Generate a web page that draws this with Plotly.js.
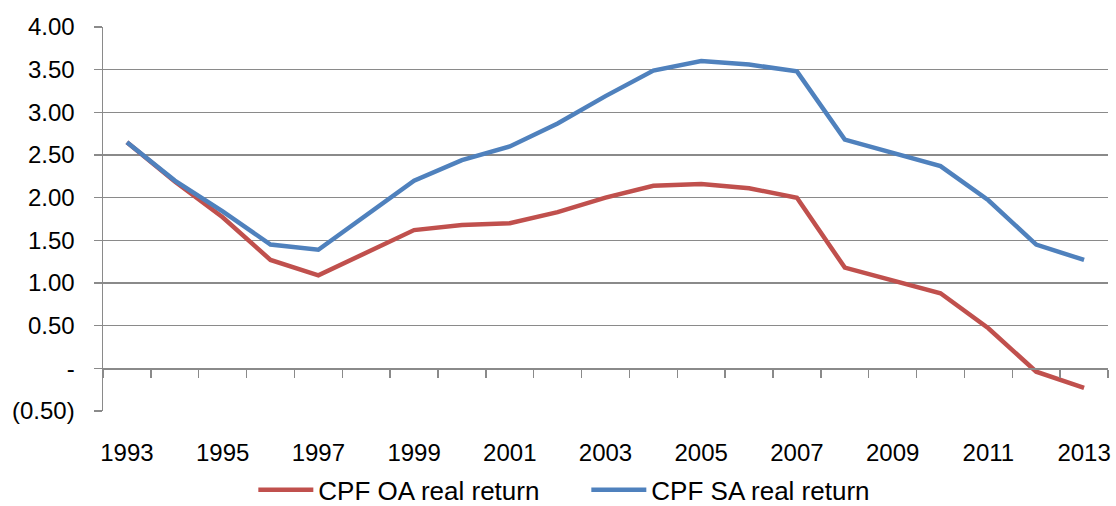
<!DOCTYPE html>
<html>
<head>
<meta charset="utf-8">
<script src="https://cdn.plot.ly/plotly-3.0.1.min.js"></script>
<style>html,body{margin:0;padding:0;background:#fff;}#chart{width:1116px;height:506px;}</style>
</head>
<body>
<div id="chart"></div>
<script>
var years = [1993,1994,1995,1996,1997,1998,1999,2000,2001,2002,2003,2004,2005,2006,2007,2008,2009,2010,2011,2012,2013];
var oaReturn = [2.65,2.19,1.77,1.27,1.09,1.36,1.62,1.68,1.70,1.83,2.00,2.14,2.16,2.11,2.00,1.18,1.03,0.88,0.47,-0.04,-0.23];
var saReturn = [2.65,2.20,1.84,1.45,1.39,1.80,2.20,2.44,2.60,2.87,3.19,3.49,3.60,3.56,3.48,2.68,2.52,2.37,1.97,1.45,1.27];
var seriesNames = ["CPF OA real return","CPF SA real return"];
var yTickVals = [-0.5,0,0.5,1,1.5,2,2.5,3,3.5,4];
var yTickText = ["(0.50)","-","0.50","1.00","1.50","2.00","2.50","3.00","3.50","4.00"];
var xLabelYears = years.filter(function(y,i){return i%2===0;});
var boundaries = years.map(function(y){return y-0.5;}).concat([years[years.length-1]+0.5]);

var font = {family:"Liberation Sans, Arial, sans-serif", size:24, color:"#000"};
var legendFont = {family:"Liberation Sans, Arial, sans-serif", size:26, color:"#000"};
var grid = "#8a8a8a";

var traces = [
  {x:years, y:oaReturn, name:seriesNames[0], type:"scatter", mode:"lines",
   line:{color:"#C0504D", width:4.5}},
  {x:years, y:saReturn, name:seriesNames[1], type:"scatter", mode:"lines",
   line:{color:"#4F81BD", width:4.5}},
  {x:[], y:[], xaxis:"x2", yaxis:"y", showlegend:false, type:"scatter", mode:"lines", hoverinfo:"skip"}
];

var layout = {
  width:1116, height:506,
  margin:{l:103, r:8, t:27, b:95, autoexpand:false},
  paper_bgcolor:"#fff", plot_bgcolor:"#fff",
  font:font,
  showlegend:true,
  legend:{orientation:"h", x:0.227, xanchor:"left", xref:"container", yref:"container",
          y:0.032, yanchor:"middle", font:legendFont, itemwidth:55, traceorder:"normal",
          entrywidth:263, entrywidthmode:"pixels"},
  xaxis:{range:[years[0]-0.5, years[years.length-1]+0.5], tickvals:xLabelYears,
         ticktext:xLabelYears.map(String), showgrid:false, zeroline:false, showline:false,
         ticks:"outside", ticklen:20, tickcolor:"rgba(0,0,0,0)", tickfont:font},
  xaxis2:{overlaying:"x", anchor:"free", position:0.5/4.5, side:"bottom",
          range:[years[0]-0.5, years[years.length-1]+0.5], tickvals:boundaries,
          showticklabels:false, showgrid:false, zeroline:false, showline:true,
          linecolor:grid, linewidth:1.5, ticks:"outside", ticklen:8, tickcolor:grid, tickwidth:1.5},
  yaxis:{range:[-0.5,4], tickvals:yTickVals, ticktext:yTickText, showgrid:true,
         gridcolor:grid, gridwidth:1.5, zeroline:false, showline:true, linecolor:grid, linewidth:1.5,
         ticks:"outside", ticklen:8, tickcolor:grid, tickwidth:1.5, tickfont:font, ticklabelstandoff:14}
};

Plotly.newPlot("chart", traces, layout, {displayModeBar:false, staticPlot:true});
</script>
</body>
</html>
